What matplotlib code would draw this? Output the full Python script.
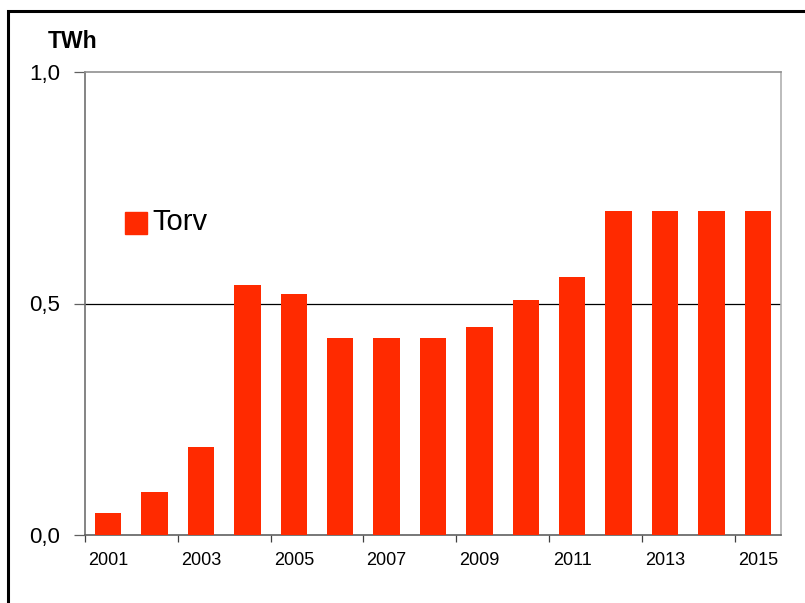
import numpy as np
import matplotlib.pyplot as plt
from matplotlib.patches import Rectangle

# Data
years = np.arange(2001, 2016)
torv = [0.048, 0.093, 0.19, 0.54, 0.52, 0.425, 0.425, 0.425, 0.45, 0.508, 0.557, 0.70, 0.70, 0.70, 0.70]
ytick_vals = [0.0, 0.5, 1.0]
ytick_labels = ['0,0', '0,5', '1,0']

plt.rcParams['font.family'] = ['Liberation Sans', 'DejaVu Sans']
red = '#ff2a00'

fig = plt.figure(figsize=(8.05, 6.03), dpi=100)
ax = fig.add_axes([85 / 805, 1 - 535 / 603, (781 - 85) / 805, (535 - 72) / 603])

x = np.arange(len(years))
ax.bar(x, torv, width=0.57, color=red, zorder=3)
ax.set_xlim(-0.5, len(years) - 0.5)
ax.set_ylim(0, 1.0)

# gridline at 0,5
ax.axhline(0.5, color='black', lw=0.9, zorder=1)

ax.set_yticks(ytick_vals)
ax.set_yticklabels(ytick_labels, fontsize=16)
ax.tick_params(axis='y', length=8, width=0.9, color='#606060', pad=10)

# x ticks between categories, labels every second year
ax.set_xticks(np.arange(-0.5, len(years), 2))
ax.set_xticklabels([])
ax.set_xticks(x[::2], minor=True)
ax.set_xticklabels([str(y) for y in years[::2]], minor=True, fontsize=13)
ax.tick_params(axis='x', which='major', length=5, width=0.9, color='#404040')
ax.tick_params(axis='x', which='minor', length=0, pad=12)

ax.spines['left'].set_color('#707070')
ax.spines['bottom'].set_color('#606060')
ax.spines['top'].set_color('#909090')
ax.spines['right'].set_color('#b0b0b0')
for s in ax.spines.values():
    s.set_linewidth(1.2)

fig.text(48 / 805, 1 - 42 / 603, 'TWh', fontsize=16.5, fontweight='bold', va='center')

# legend
fig.patches.append(Rectangle((125 / 805, 1 - 234 / 603), 22 / 805, 22 / 603,
                             transform=fig.transFigure, color=red, figure=fig))
fig.text(152 / 805, 1 - 222 / 603, 'Torv', fontsize=21, va='center')

# outer border
fig.patches.append(Rectangle((8 / 805, -0.05), 1.1, 1 - 11 / 603 + 0.05,
                             transform=fig.transFigure, fill=False, ec='black',
                             lw=2.2, figure=fig))

fig.savefig('out.png', dpi=100)
